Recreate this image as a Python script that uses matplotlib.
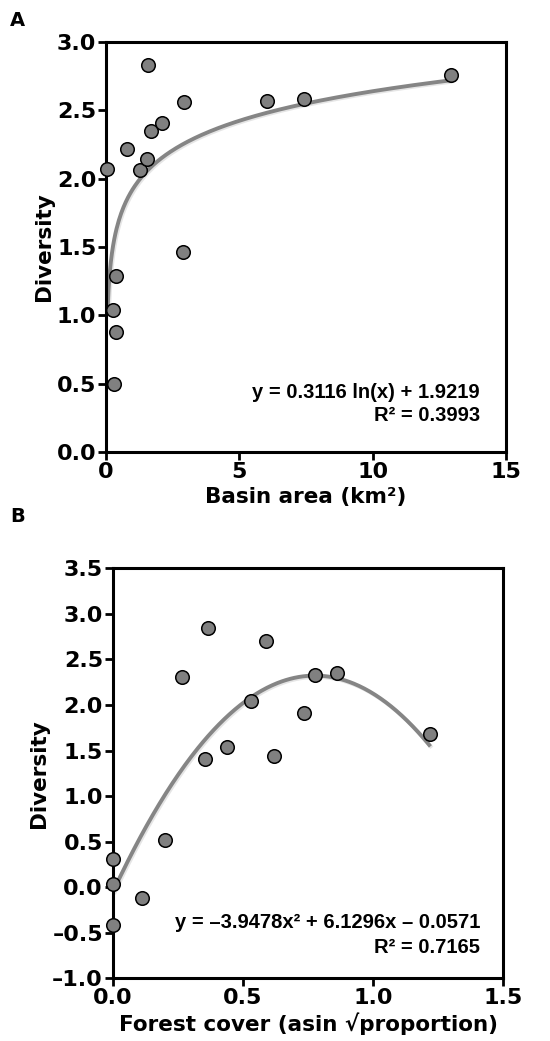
import matplotlib
matplotlib.use("Agg")
import matplotlib.pyplot as plt
import matplotlib.patheffects as pe
import numpy as np

# ── Data ────────────────────────────────────────────────────────────────
basin_area = [0.05, 0.78, 1.28, 1.54, 1.56, 1.69, 2.11, 2.94, 2.90, 6.03,
              7.43, 12.93, 0.375, 0.25, 0.36, 0.30]
diversity_a = [2.07, 2.22, 2.06, 2.14, 2.83, 2.35, 2.41, 2.56, 1.46, 2.57,
               2.58, 2.76, 1.29, 1.04, 0.88, 0.50]

forest_cover = [0.0, 0.0, 0.0, 0.113, 0.202, 0.265, 0.356, 0.367, 0.438,
                0.532, 0.587, 0.621, 0.735, 0.776, 0.86, 1.22]
diversity_b = [0.31, 0.03, -0.41, -0.12, 0.52, 2.31, 1.41, 2.85, 1.54,
               2.04, 2.70, 1.44, 1.91, 2.33, 2.35, 1.685]

# fitted trend coefficients (from the equations printed on the chart)
log_a, log_b = 0.3116, 1.9219
quad = [-3.9478, 6.1296, -0.0571]

xticks_a = [0, 5, 10, 15]
yticks_a = [0.0, 0.5, 1.0, 1.5, 2.0, 2.5, 3.0]
xticks_b = [0.0, 0.5, 1.0, 1.5]
yticks_b = [-1.0, -0.5, 0.0, 0.5, 1.0, 1.5, 2.0, 2.5, 3.0, 3.5]

# ── Style ────────────────────────────────────────────────────────────────
_PT_COLOR = "#808080"
_LINE_COLOR = "#858585"
_TICK_FONT = dict(family="DejaVu Sans", weight="bold", size=16)
_LABEL_FONT = dict(family="DejaVu Sans", weight="bold", size=15.5)
_EQ_FONT = dict(family="Liberation Sans", weight="bold", size=14.5)


def _fmt(v):
    return f"{v:.1f}".replace("-", "\u2013")


def _style_ax(ax, xticks, yticks, xlabels, ylabels):
    for s in ax.spines.values():
        s.set_linewidth(2.2)
    ax.set_xticks(xticks)
    ax.set_yticks(yticks)
    ax.set_xticklabels(xlabels, **_TICK_FONT)
    ax.set_yticklabels(ylabels, **_TICK_FONT)
    ax.tick_params(direction="out", length=6, width=2, pad=1)


def _trend(ax, x, y):
    ax.plot(x, y, color=_LINE_COLOR, linewidth=2.8, solid_capstyle="butt",
            zorder=2,
            path_effects=[pe.SimpleLineShadow(offset=(1, -1), alpha=0.15,
                                              shadow_color="#555555"),
                          pe.Normal()])


fig = plt.figure(figsize=(5.5, 10.41), dpi=100)

# ── Panel A ──────────────────────────────────────────────────────────────
ax1 = fig.add_axes([0.1927, 0.5658, 0.7273, 0.3939])
xf = np.linspace(0.052, max(basin_area), 300)
_trend(ax1, xf, log_a * np.log(xf) + log_b)
ax1.scatter(basin_area, diversity_a, s=95, color=_PT_COLOR,
            edgecolors="black", linewidths=1.1, zorder=3, clip_on=False)
ax1.set_xlim(0, 15)
ax1.set_ylim(0, 3.0)
_style_ax(ax1, xticks_a, yticks_a, [str(v) for v in xticks_a],
          [_fmt(v) for v in yticks_a])
ax1.set_xlabel("Basin area (km\u00b2)", labelpad=4, **_LABEL_FONT)
ax1.set_ylabel("Diversity", labelpad=2, **_LABEL_FONT)
ax1.text(0.935, 0.146, "y = 0.3116 ln(x) + 1.9219", transform=ax1.transAxes,
         ha="right", va="center", **_EQ_FONT)
ax1.text(0.935, 0.09, "R\u00b2 = 0.3993", transform=ax1.transAxes,
         ha="right", va="center", **_EQ_FONT)
fig.text(0.018, 0.989, "A", ha="left", va="top", family="DejaVu Sans",
         weight="heavy", size=14)

# ── Panel B ──────────────────────────────────────────────────────────────
ax2 = fig.add_axes([0.2049, 0.0602, 0.7103, 0.3939])
xq = np.linspace(0, max(forest_cover), 300)
_trend(ax2, xq, np.polyval(quad, xq))
ax2.scatter(forest_cover, diversity_b, s=95, color=_PT_COLOR,
            edgecolors="black", linewidths=1.1, zorder=3, clip_on=False)
ax2.set_xlim(0, 1.5)
ax2.set_ylim(-1.0, 3.5)
_style_ax(ax2, xticks_b, yticks_b, [_fmt(v) for v in xticks_b],
          [_fmt(v) for v in yticks_b])
ax2.set_xlabel("Forest cover (asin \u221aproportion)", labelpad=3, **_LABEL_FONT)
ax2.set_ylabel("Diversity", labelpad=2, **_LABEL_FONT)
ax2.text(0.94, 0.135, "y = \u20133.9478x\u00b2 + 6.1296x \u2013 0.0571",
         transform=ax2.transAxes, ha="right", va="center", **_EQ_FONT)
ax2.text(0.94, 0.074, "R\u00b2 = 0.7165", transform=ax2.transAxes,
         ha="right", va="center", **_EQ_FONT)
fig.text(0.018, 0.513, "B", ha="left", va="top", family="DejaVu Sans",
         weight="heavy", size=14)

fig.savefig("out.png", dpi=100)
plt.close(fig)
